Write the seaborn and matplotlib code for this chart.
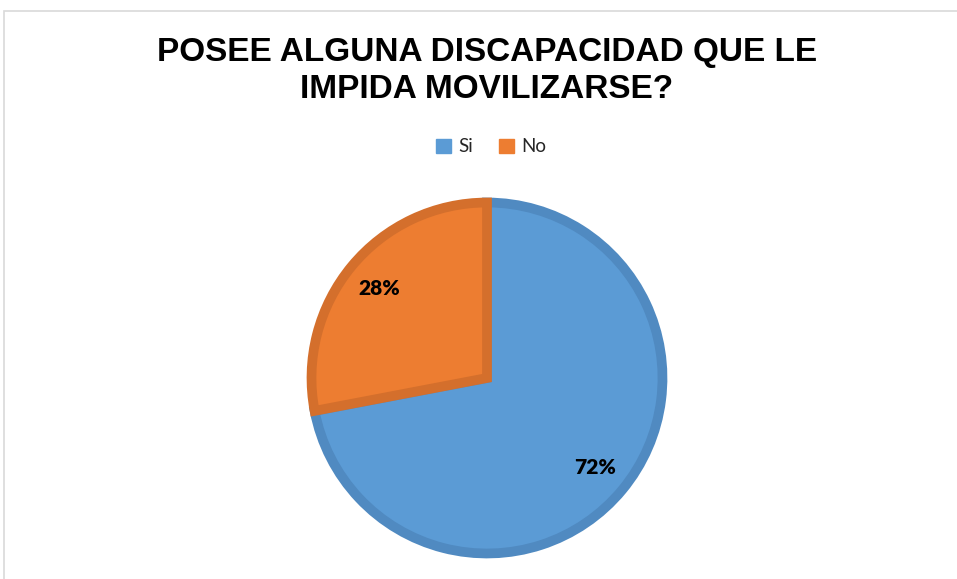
import matplotlib
matplotlib.use("Agg")
import matplotlib.pyplot as plt
import seaborn as sns
from matplotlib.patches import Rectangle, Patch

# Datos de la encuesta
categorias = ["Si", "No"]
porcentajes = [72, 28]
colores = ["#5B9BD5", "#ED7D31"]
bordes = ["#508AC1", "#D46F2C"]
titulo = ["POSEE ALGUNA DISCAPACIDAD QUE LE", "IMPIDA MOVILIZARSE?"]

sns.set_theme(style="white")
plt.rcParams['font.family'] = ['Liberation Sans', 'DejaVu Sans']

fig = plt.figure(figsize=(9.57, 5.79), dpi=100)

# marco gris del grafico
fig.patches.append(Rectangle((4 / 957, -0.01), 1.0, (579 - 11) / 579 + 0.01,
                             transform=fig.transFigure, fill=False,
                             edgecolor="#D9D9D9", linewidth=1.2))

ax = fig.add_axes([(487 - 179) / 957, 22 / 579, 358 / 957, 358 / 579])
wedges, textos, autotextos = ax.pie(
    porcentajes, colors=colores, startangle=90, counterclock=False,
    autopct=lambda p: f"{p:.0f}%", pctdistance=0.8, radius=1.0,
    wedgeprops=dict(linewidth=7))
for w, b in zip(wedges, bordes):
    w.set_edgecolor(b)
for t in autotextos:
    t.set_fontfamily(['Lato', 'DejaVu Sans'])
    t.set_fontweight('heavy')
    t.set_fontsize(15)
    t.set_color('black')
ax.set_xlim(-1.02, 1.02)
ax.set_ylim(-1.02, 1.02)
ax.set_aspect('equal')

# titulo en dos lineas
for linea, y in zip(titulo, [52, 89]):
    fig.text(487 / 957, 1 - y / 579, linea, ha='center', va='center',
             fontsize=24, fontweight='bold', color='black')

handles = [Patch(facecolor=c, edgecolor=c) for c in colores]
fig.legend(handles, categorias, loc='center', bbox_to_anchor=(491 / 957, 1 - 147 / 579),
           ncol=2, frameon=False, handlelength=0.8, handleheight=0.8,
           handletextpad=0.4, columnspacing=1.4,
           prop={'family': ['Lato', 'DejaVu Sans'], 'size': 13.5})

fig.savefig("out.png", dpi=100)
